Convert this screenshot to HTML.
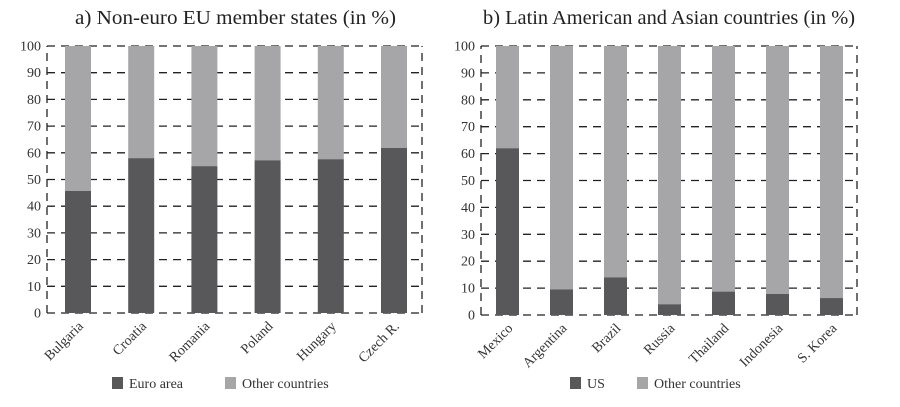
<!DOCTYPE html>
<html><head><meta charset="utf-8"><style>
body{margin:0;background:#fff;}
svg{display:block;font-family:"Liberation Serif",serif;}
</style></head><body>
<svg id="chart" width="900" height="407" viewBox="0 0 900 407">
<text x="75" y="24" font-size="20" textLength="321" lengthAdjust="spacingAndGlyphs" fill="#222">a) Non-euro EU member states (in %)</text>
<text x="483" y="24" font-size="20" textLength="372" lengthAdjust="spacingAndGlyphs" fill="#222">b) Latin American and Asian countries (in %)</text>
<g id="left"></g>
<g id="right"></g>
</svg>
<script>
const leftCategories = ["Bulgaria","Croatia","Romania","Poland","Hungary","Czech R."];
const leftEuro = [45.7, 58.0, 55.0, 57.2, 57.6, 61.8];
const rightCategories = ["Mexico","Argentina","Brazil","Russia","Thailand","Indonesia","S. Korea"];
const rightUS = [62.0, 9.5, 14.0, 4.0, 8.7, 7.8, 6.3];
const yTicks = [0,10,20,30,40,50,60,70,80,90,100];
const leftLegend = ["Euro area","Other countries"];
const rightLegend = ["US","Other countries"];

const NS = "http://www.w3.org/2000/svg";
function mk(parent, tag, attrs){const e=document.createElementNS(NS,tag);for(const k in attrs)e.setAttribute(k,attrs[k]);parent.appendChild(e);return e;}

function panel(g, cfg, cats, vals, legend){
  const y = v => cfg.y0 - (cfg.y0 - cfg.y1) * v / 100;
  const step = (cfg.bx1 - cfg.bx0) / cats.length;
  const xc = i => cfg.bx0 + step * (i + 0.5);
  yTicks.forEach(t => {
    const l = mk(g,'line',{x1:cfg.x0,x2:cfg.x1,y1:y(t),y2:y(t),stroke:'#222','stroke-width':1.3,'stroke-dasharray':'8,6'});
    
    
    const tx = mk(g,'text',{x:cfg.x0-6,y:y(t)+4.5,'font-size':14,'text-anchor':'end',fill:'#333'});
    tx.textContent = t;
    
    
  });
  [cfg.x0,cfg.x1].forEach((xx,k)=>{
    const l = mk(g,'line',{x1:xx,x2:xx,y1:y(0),y2:y(100),stroke:'#222','stroke-width':1.3,'stroke-dasharray':'8,6'});
    
    
  });
  cats.forEach((c,i)=>{
    const bx = xc(i) - cfg.bw/2;
    const top = mk(g,'rect',{x:bx,y:y(100),width:cfg.bw,height:y(vals[i])-y(100),fill:'#a6a6a8'});
    
    
    const bot = mk(g,'rect',{x:bx,y:y(vals[i]),width:cfg.bw,height:y(0)-y(vals[i]),fill:'#58585a'});
    
    
    const lx = xc(i)+6, ly = cfg.y0+14;
    const t = mk(g,'text',{x:lx,y:ly,'font-size':14,'text-anchor':'end',fill:'#333',transform:`rotate(-45 ${lx} ${ly})`});
    t.textContent = c;
    
    
  });
  const cols = ['#58585a','#a6a6a8'];
  legend.forEach((n,k)=>{
    const sx = cfg.legX[k];
    const r = mk(g,'rect',{x:sx,y:377,width:11,height:12,fill:cols[k]});
    
    
    const t = mk(g,'text',{x:sx+17,y:388,'font-size':14,fill:'#333'});
    t.textContent = n;
    
    
  });
}
panel(document.getElementById('left'),{x0:47,x1:422,bx0:46.4,bx1:425.6,y0:313,y1:46,bw:26,legX:[112,225]},leftCategories,leftEuro,leftLegend);
panel(document.getElementById('right'),{x0:481,x1:857,bx0:480.5,bx1:858.5,y0:315,y1:46,bw:23,legX:[570,637]},rightCategories,rightUS,rightLegend);
</script>
</body></html>
